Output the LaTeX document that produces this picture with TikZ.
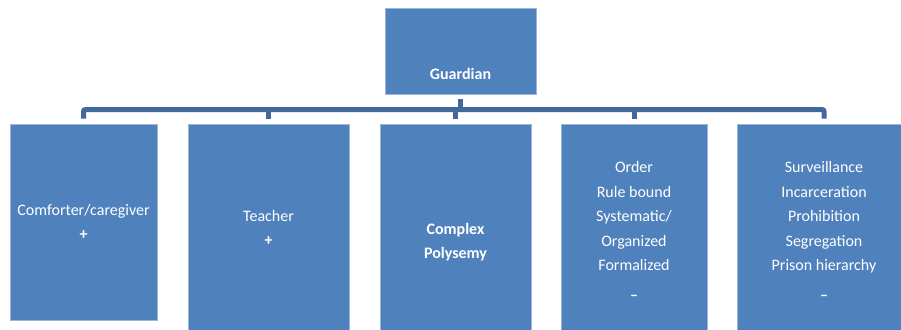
\documentclass[tikz,border=0pt]{standalone}
\usepackage{fontspec}
\setmainfont{Carlito}
\usepackage{xcolor}
\usetikzlibrary{positioning}
\definecolor{boxblue}{HTML}{4F81BD}
\definecolor{busblue}{HTML}{41699B}
\definecolor{boxedge}{HTML}{9DB6D8}

\tikzset{
  rolebox/.style={draw=boxedge,line width=0.6pt,fill=boxblue,text=white,
                  align=center,inner sep=0pt,font=\fontsize{16}{24.5}\selectfont},
  busline/.style={draw=busblue,line width=5pt,rounded corners=2pt},
}

\begin{document}
\begin{tikzpicture}[x=1pt,y=-1pt]
  \useasboundingbox (0,0) rectangle (901,329);
  % top box
  \node[rolebox,minimum width=151pt,minimum height=86pt] (guardian) at (460.5,51) {};
  \node[text=white,font=\fontsize{16}{24.5}\selectfont\bfseries] (guardianlbl) at (460.5,74) {Guardian};
  % children
  \node[rolebox,minimum width=147pt,minimum height=196pt] (comforter) at (83.5,222)
    {Comforter/caregiver\\\textbf{+}};
  \node[rolebox,minimum width=161pt,minimum height=208pt] (teacher) at (268.5,228)
    {Teacher\\\textbf{+}};
  \node[rolebox,minimum width=151pt,minimum height=236pt] (polysemy) at (455.5,242)
    {\bfseries Complex\\\bfseries Polysemy};
  \node[rolebox,minimum width=146pt,minimum height=214pt] (order) at (634,231)
    {Order\\Rule bound\\Systematic/\\Organized\\Formalized\\[5pt]\textbf{–}};
  \node[rolebox,minimum width=174pt,minimum height=214pt] (surveil) at (824,231)
    {Surveillance\\Incarceration\\Prohibition\\Segregation\\Prison hierarchy\\[5pt]\textbf{–}};
  % connector
  \coordinate (bus) at (460,109.5);
  \draw[busline] ([yshift=-5pt]guardian.south) -- (guardian.south |- bus);
  \draw[busline] ([yshift=5pt]comforter.north) |- (bus) -| ([yshift=5pt]surveil.north);
  \foreach \b in {teacher,polysemy,order}
    \draw[busline] ([yshift=5pt]\b.north) -- (\b.north |- bus);
\end{tikzpicture}
\end{document}
